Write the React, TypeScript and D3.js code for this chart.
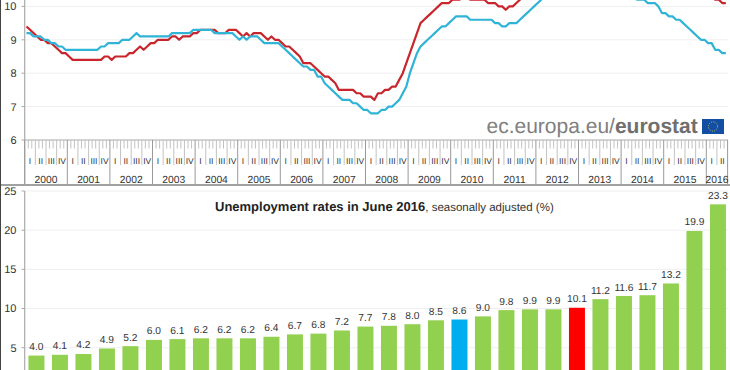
import React from "react";
import * as d3 from "d3";

// Monthly unemployment rate, Jan 2000 – Jun 2016
const euroArea = [
  9.4,9.3,9.2,9.1,9.0,9.0,8.9,8.9,8.8,8.7,8.6,8.6,
  8.5,8.4,8.4,8.4,8.4,8.4,8.4,8.4,8.4,8.4,8.5,8.5,
  8.4,8.5,8.5,8.5,8.5,8.6,8.6,8.7,8.8,8.7,8.8,8.9,
  8.9,9.0,9.0,9.0,9.0,9.1,9.1,9.0,9.1,9.1,9.1,9.2,
  9.2,9.3,9.3,9.3,9.3,9.3,9.2,9.2,9.2,9.3,9.3,9.3,
  9.2,9.1,9.2,9.1,9.2,9.2,9.2,9.1,9.0,9.1,9.0,9.0,
  8.9,8.8,8.8,8.7,8.6,8.5,8.3,8.3,8.3,8.2,8.1,8.0,
  7.9,7.9,7.8,7.7,7.5,7.5,7.5,7.5,7.5,7.4,7.4,7.3,
  7.3,7.3,7.2,7.4,7.4,7.5,7.5,7.6,7.6,7.8,8.0,8.3,
  8.6,8.9,9.2,9.5,9.6,9.7,9.8,9.9,10.0,10.1,10.1,10.1,
  10.2,10.2,10.2,10.3,10.3,10.2,10.2,10.2,10.2,10.2,10.1,10.1,
  10.1,10.0,10.0,9.9,10.0,10.0,10.1,10.2,10.3,10.5,10.6,10.7,
  10.8,11.0,11.1,11.2,11.3,11.4,11.5,11.5,11.6,11.7,11.8,11.9,
  12.0,12.0,12.0,12.0,12.0,12.0,12.0,12.0,12.0,11.9,11.9,11.9,
  11.8,11.7,11.7,11.7,11.6,11.6,11.6,11.5,11.5,11.5,11.5,11.4,
  11.3,11.2,11.1,11.1,11.0,11.0,10.9,10.8,10.7,10.6,10.5,10.5,
  10.4,10.3,10.2,10.2,10.1,10.1,
];
const eu = [
  9.2,9.2,9.1,9.1,9.1,9.0,9.0,8.9,8.9,8.8,8.8,8.7,
  8.7,8.7,8.7,8.7,8.7,8.7,8.7,8.7,8.7,8.8,8.8,8.9,
  8.9,8.9,8.9,9.0,9.0,9.0,9.1,9.2,9.1,9.1,9.1,9.1,
  9.1,9.1,9.1,9.1,9.1,9.2,9.2,9.2,9.2,9.2,9.2,9.3,
  9.3,9.3,9.3,9.3,9.3,9.2,9.2,9.2,9.2,9.2,9.2,9.1,
  9.0,9.1,9.0,9.1,9.1,9.1,9.0,8.9,8.9,8.9,8.9,8.9,
  8.8,8.7,8.6,8.5,8.4,8.3,8.2,8.2,8.1,8.1,7.9,7.9,
  7.7,7.6,7.5,7.4,7.3,7.2,7.2,7.2,7.1,7.1,7.0,6.9,
  6.9,6.8,6.8,6.8,6.9,6.9,7.0,7.0,7.1,7.2,7.4,7.6,
  8.0,8.3,8.6,8.8,8.9,9.0,9.1,9.2,9.3,9.4,9.4,9.5,
  9.6,9.7,9.7,9.7,9.7,9.6,9.6,9.6,9.6,9.6,9.6,9.6,
  9.5,9.5,9.4,9.4,9.5,9.5,9.5,9.6,9.7,9.8,9.9,10.0,
  10.1,10.2,10.3,10.4,10.4,10.5,10.5,10.6,10.7,10.7,10.8,10.8,
  10.9,10.9,10.9,10.9,10.9,10.9,10.9,10.8,10.8,10.8,10.7,10.7,
  10.6,10.5,10.4,10.3,10.2,10.2,10.2,10.1,10.1,10.1,10.0,9.8,
  9.8,9.7,9.7,9.6,9.6,9.5,9.4,9.3,9.2,9.1,9.0,9.0,
  8.9,8.9,8.7,8.7,8.6,8.6,
];
const years = [2000,2001,2002,2003,2004,2005,2006,2007,2008,2009,2010,2011,2012,2013,2014,2015,2016];
const quarters = ["I","II","III","IV"];
const lineTicks = [6,7,8,9,10];

// June 2016 ranking
const barValues = [4.0,4.1,4.2,4.9,5.2,6.0,6.1,6.2,6.2,6.2,6.4,6.7,6.8,7.2,7.7,7.8,8.0,8.5,8.6,9.0,9.8,9.9,9.9,10.1,11.2,11.6,11.7,13.2,19.9,23.3];
const euBarIndex = 18;
const euroBarIndex = 23;
const barTicks = [5,10,15,20,25];

const FONT = "'Liberation Sans', Arial, sans-serif";
const TEXT = "#333";
const AXIS = "#aaa";
const GRID = "#efefef";
const LEFT = 24.7;
const RIGHT = 728;

const months = d3.range(0, euroArea.length + 1);
const x = d3.scaleLinear().domain([0, 198]).range([LEFT, LEFT + 198 * (42.6 / 12)]);
const yTop = d3.scaleLinear().domain([6, 10]).range([140, 6.4]);
const yBar = d3.scaleLinear().domain([0, 25]).range([386.9, 191]);
const xBar = d3.scaleBand<number>()
  .domain(d3.range(barValues.length))
  .range([LEFT, LEFT + 23.5 * barValues.length])
  .paddingInner(0.32)
  .paddingOuter(0.16);

const line = d3.line<number>().x((_, i) => x(i + 0.5)).y((d) => yTop(d)).curve(d3.curveLinear);

export default function App() {
  return (
    <svg width={730} height={370} viewBox="0 0 730 370"
      style={{ position: "absolute", left: 0, top: 0, background: "#fff", fontFamily: FONT, textRendering: "geometricPrecision" }}>
      {/* top chart grid */}
      {lineTicks.slice(1).map((t) => (
        <line key={t} x1={LEFT} x2={RIGHT} y1={yTop(t)} y2={yTop(t)} stroke={GRID} />
      ))}
      <path d={line(euroArea) || ""} fill="none" stroke="#c9252c" strokeWidth={2.2} strokeLinejoin="round" />
      <path d={line(eu) || ""} fill="none" stroke="#2fb3d6" strokeWidth={2.2} strokeLinejoin="round" />

      {/* top chart y axis */}
      <line x1={LEFT} x2={LEFT} y1={0} y2={184} stroke={AXIS} strokeWidth={1.2} />
      {lineTicks.map((t) => (
        <g key={t}>
          <line x1={21.5} x2={LEFT} y1={yTop(t)} y2={yTop(t)} stroke={AXIS} />
          <text x={16.5} y={yTop(t) + 3.9} textAnchor="end" fontSize={11} fill={TEXT}>{t}</text>
        </g>
      ))}

      {/* time axis */}
      <line x1={LEFT} x2={RIGHT} y1={140} y2={140} stroke={AXIS} strokeWidth={1.2} />
      {months.map((m) => {
        const isYear = m % 12 === 0 || m === 198;
        const isQuarter = m % 3 === 0;
        return (
          <line key={m} x1={x(m)} x2={x(m)} y1={140}
            y2={isYear ? 184 : isQuarter ? 165 : 148.5}
            stroke={isYear ? "#999" : "#bbb"} strokeWidth={isYear ? 1 : 0.9} />
        );
      })}
      {d3.range(0, 198, 3).map((m) => (
        <text key={m} x={x(m + 1.5)} y={164} textAnchor="middle" fontSize={8.5} fill={TEXT}>
          {quarters[(m / 3) % 4]}
        </text>
      ))}
      {years.map((yr, i) => (
        <text key={yr} x={x(i * 12 + (yr === 2016 ? 3 : 6))} y={182.5} textAnchor="middle" fontSize={10.3} fill={TEXT}>{yr}</text>
      ))}

      {/* watermark */}
      <text x={486.5} y={133} fontSize={21} fill="#808080">
        ec.europa.eu/<tspan fontWeight="bold" fill="#6f6f6f">eurostat</tspan>
      </text>
      <rect x={702} y={119} width={22} height={15} fill="#124ea3" />
      <circle cx={713} cy={126.5} r={4.6} fill="none" stroke="#d8c850" strokeWidth={0.9} strokeDasharray="1 1.4" />

      {/* divider and frame */}
      <line x1={0} x2={730} y1={185} y2={185} stroke="#444" strokeWidth={1.2} />
      <line x1={0.5} x2={0.5} y1={0} y2={370} stroke="#444" strokeWidth={1} />

      {/* bar chart */}
      {barTicks.map((t) => (
        <line key={t} x1={LEFT} x2={RIGHT} y1={yBar(t)} y2={yBar(t)} stroke={GRID} />
      ))}
      <line x1={LEFT} x2={LEFT} y1={191} y2={370} stroke={AXIS} strokeWidth={1.2} />
      {barTicks.map((t) => (
        <g key={t}>
          <line x1={21.5} x2={LEFT} y1={yBar(t)} y2={yBar(t)} stroke={AXIS} />
          <text x={16.5} y={yBar(t) + 3.9} textAnchor="end" fontSize={11} fill={TEXT}>{t}</text>
        </g>
      ))}
      {barValues.map((v, i) => (
        <g key={i}>
          <rect x={xBar(i)} y={yBar(v)} width={xBar.bandwidth()} height={yBar(0) - yBar(v)}
            fill={i === euBarIndex ? "#00aeef" : i === euroBarIndex ? "#ff0000" : "#92d050"} />
          <text x={(xBar(i) as number) + xBar.bandwidth() / 2} y={yBar(v) - 5.5} textAnchor="middle" fontSize={10.2} fill={TEXT}>
            {v.toFixed(1)}
          </text>
        </g>
      ))}
      <text x={215} y={211} fontSize={13} fill="#222">
        <tspan fontWeight="bold">Unemployment rates in June 2016</tspan>
        <tspan fontSize={11.5} fill={TEXT}>, seasonally adjusted  (%)</tspan>
      </text>
    </svg>
  );
}
